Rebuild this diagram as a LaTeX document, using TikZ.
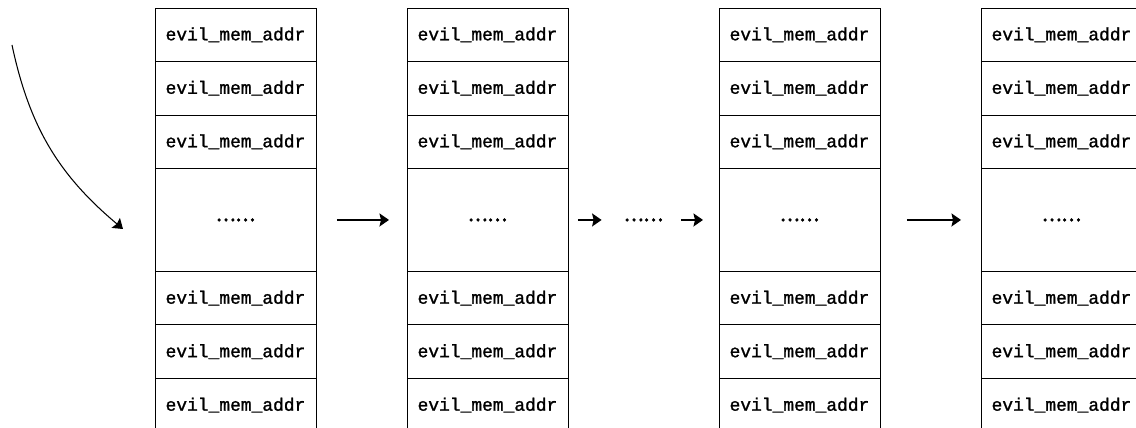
\documentclass[tikz,border=0pt]{standalone}
\usepackage{fontspec}
\newfontfamily\memfont[FakeBold=1.2]{Liberation Mono}
\newfontfamily\cjk[FakeBold=4]{Noto Sans CJK SC}
\usetikzlibrary{positioning,arrows.meta}

\begin{document}
\begin{tikzpicture}[x=0.02cm,y=-0.02cm,
    cell/.style={draw,line width=0.5pt,outer sep=0pt,minimum width=3.22cm,minimum height=1.07cm,
      inner sep=0pt,font=\memfont\fontsize{10.2}{12}\selectfont},
    gapcell/.style={cell,minimum height=2.06cm,font=\cjk\fontsize{10.5}{12}\selectfont},
    link/.style={-{Stealth[length=1.9mm,width=2.6mm,inset=0.3mm]},line width=0.9pt}]
  \useasboundingbox (0,0) rectangle (1136,428);
  % Memory columns
  \foreach \col/\xl in {1/155,2/407,3/719,4/981} {
    \node[cell,anchor=north west] (c\col r1) at (\xl,8) {evil\_mem\_addr};
    \node[cell,below=0pt of c\col r1] (c\col r2) {evil\_mem\_addr};
    \node[cell,below=0pt of c\col r2] (c\col r3) {evil\_mem\_addr};
    \node[gapcell,below=0pt of c\col r3] (c\col m) {……};
    \node[cell,below=0pt of c\col m] (c\col r5) {evil\_mem\_addr};
    \node[cell,below=0pt of c\col r5] (c\col r6) {evil\_mem\_addr};
    \node[cell,below=0pt of c\col r6] (c\col r7) {evil\_mem\_addr};
  }
  % Dots between the second and third column
  \path (c2m.east) -- (c3m.west)
    node[midway,inner sep=0pt,font=\cjk\fontsize{10.5}{12}\selectfont] (more) {……};
  % Arrows
  \draw[link] ([xshift=0.42cm]c1m.east) -- ([xshift=-0.36cm]c2m.west);
  \draw[link] ([xshift=0.2cm]c2m.east) -- ([xshift=-0.44cm]more.west);
  \draw[link] ([xshift=0.36cm]more.east) -- ([xshift=-0.32cm]c3m.west);
  \draw[link] ([xshift=0.54cm]c3m.east) -- ([xshift=-0.4cm]c4m.west);
  % Entry arrow
  \coordinate (start) at (12,45);
  \coordinate (hit) at (123,229);
  \draw[link,line width=0.6pt] (start) to[out=-78,in=140] (hit);
\end{tikzpicture}
\end{document}
